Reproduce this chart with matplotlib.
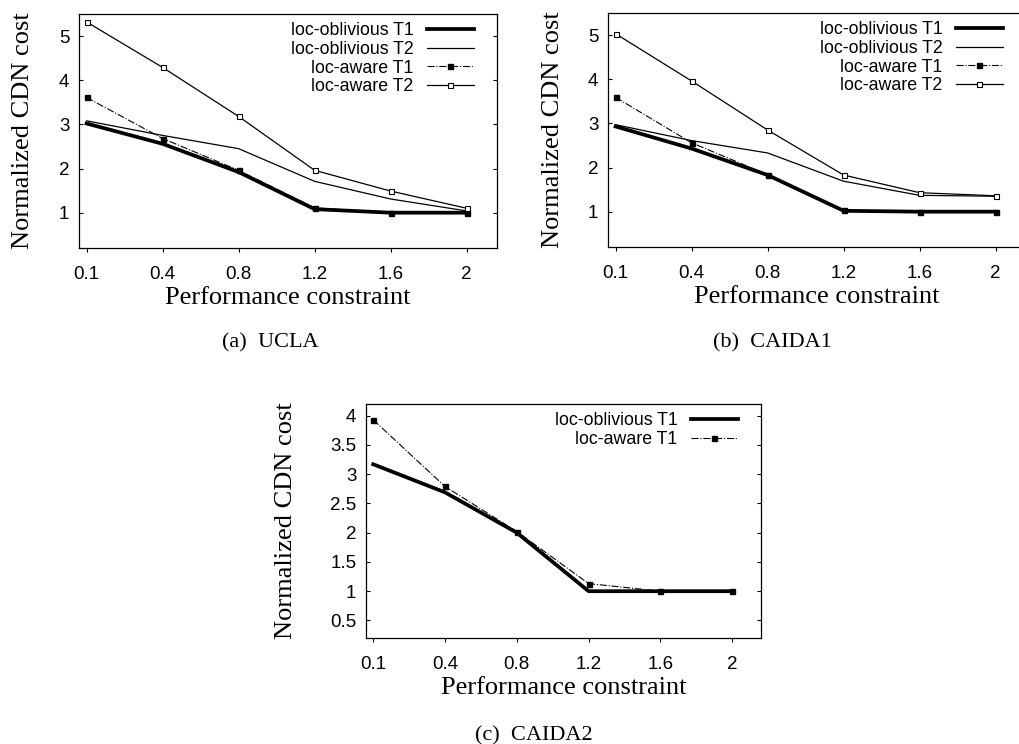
import matplotlib
matplotlib.use("Agg")
import matplotlib.pyplot as plt
import numpy as np

# ---- data ----
x_labels = ["0.1", "0.4", "0.8", "1.2", "1.6", "2"]

ucla_obl_t1 = [3.02, 2.56, 1.92, 1.08, 1.00, 1.00]
ucla_obl_t2 = [3.08, 2.75, 2.45, 1.71, 1.31, 1.04]
ucla_aw_t1 = [3.61, 2.68, 1.96, 1.11, 1.00, 1.00]
ucla_aw_t2 = [5.32, 4.29, 3.18, 1.96, 1.49, 1.10]

caida1_obl_t1 = [2.93, 2.43, 1.83, 1.02, 1.00, 1.00]
caida1_obl_t2 = [2.97, 2.61, 2.33, 1.69, 1.37, 1.35]
caida1_aw_t1 = [3.59, 2.56, 1.84, 1.03, 1.00, 1.00]
caida1_aw_t2 = [5.03, 3.96, 2.85, 1.83, 1.43, 1.36]

caida2_obl_t1 = [3.17, 2.69, 2.00, 1.00, 1.00, 1.00]
caida2_aw_t1 = [3.93, 2.79, 2.02, 1.13, 1.00, 1.00]

ticks_ab = [1, 2, 3, 4, 5]
ticks_c = [0.5, 1, 1.5, 2, 2.5, 3, 3.5, 4]
tick_labels_c = ["0.5", "1", "1.5", "2", "2.5", "3", "3.5", "4"]

labels = ["loc-oblivious T1", "loc-oblivious T2", "loc-aware T1", "loc-aware T2"]
captions = ["(a)  UCLA", "(b)  CAIDA1", "(c)  CAIDA2"]

SANS = "Liberation Sans"
SERIF = "Liberation Serif"

W, H = 1020, 744
fig = plt.figure(figsize=(W / 100, H / 100), dpi=100)


def px_axes(left, top, right, bottom):
    return fig.add_axes([left / W, 1 - bottom / H, (right - left) / W, (bottom - top) / H])


styles = [
    dict(color="black", lw=2.7, ls="-"),
    dict(color="black", lw=0.9, ls="-"),
    dict(color="black", lw=0.8, ls="-.", marker="s", ms=3.6, mfc="black", mec="black"),
    dict(color="black", lw=0.9, ls="-", marker="s", ms=3.6, mfc="white", mec="black", mew=0.8),
]


def style_axes(ax, yticks, ytick_labels, ylim, ylabel_x):
    x = np.arange(len(x_labels))
    ax.set_xticks(x)
    ax.set_xticklabels(x_labels, fontfamily=SANS, fontsize=13.5)
    ax.set_xlim(-0.1, 5.4)
    ax.set_yticks(yticks)
    ax.set_yticklabels(ytick_labels, fontfamily=SANS, fontsize=13.5)
    ax.set_ylim(*ylim)
    ax.tick_params(axis="y", direction="in", left=True, right=True, length=3, width=0.8, pad=7)
    ax.tick_params(axis="x", direction="out", bottom=True, top=False, length=3, width=0.8, pad=10)
    for s in ax.spines.values():
        s.set_linewidth(0.9)
    ax.set_xlabel("Performance constraint", fontfamily=SERIF, fontsize=19, labelpad=3)
    ax.set_ylabel("Normalized CDN cost", fontfamily=SERIF, fontsize=19)
    ax.yaxis.set_label_coords(ylabel_x, 0.5)


def add_legend(ax, right_px_from_edge, width_px):
    leg = ax.legend(loc="upper right", bbox_to_anchor=(1 - right_px_from_edge / width_px, 1.0),
                    frameon=False, markerfirst=False, handlelength=2.65, handletextpad=0.75,
                    labelspacing=0.1, borderaxespad=0.15, borderpad=0.3, numpoints=1,
                    prop=dict(family=SANS, size=12.8))
    return leg


xs = np.arange(len(x_labels))

# Panel (a)
ax_a = px_axes(79, 14, 497, 248)
for ys, st, lb in zip([ucla_obl_t1, ucla_obl_t2, ucla_aw_t1, ucla_aw_t2], styles, labels):
    ax_a.plot(xs, ys, label=lb, **st)
style_axes(ax_a, ticks_ab, [str(t) for t in ticks_ab], (0.2, 5.5), -0.107)
add_legend(ax_a, 15, 418)

# Panel (b)
ax_b = px_axes(608, 13, 1026, 247)
for ys, st, lb in zip([caida1_obl_t1, caida1_obl_t2, caida1_aw_t1, caida1_aw_t2], styles, labels):
    ax_b.plot(xs, ys, label=lb, **st)
style_axes(ax_b, ticks_ab, [str(t) for t in ticks_ab], (0.2, 5.5), -0.105)
add_legend(ax_b, 15, 418)

# Panel (c)
ax_c = px_axes(366, 404, 761, 638)
for ys, st, lb in zip([caida2_obl_t1, caida2_aw_t1], [styles[0], styles[2]], [labels[0], labels[2]]):
    ax_c.plot(xs, ys, label=lb, **st)
style_axes(ax_c, ticks_c, tick_labels_c, (0.2, 4.2), -0.175)
add_legend(ax_c, 15, 395)

# captions
fig.text(270 / W, 1 - 343 / H, captions[0], ha="center", va="center", fontfamily=SERIF, fontsize=16)
fig.text(772 / W, 1 - 343 / H, captions[1], ha="center", va="center", fontfamily=SERIF, fontsize=16)
fig.text(534 / W, 1 - 736 / H, captions[2], ha="center", va="center", fontfamily=SERIF, fontsize=16)

fig.savefig("out.png", dpi=100)
